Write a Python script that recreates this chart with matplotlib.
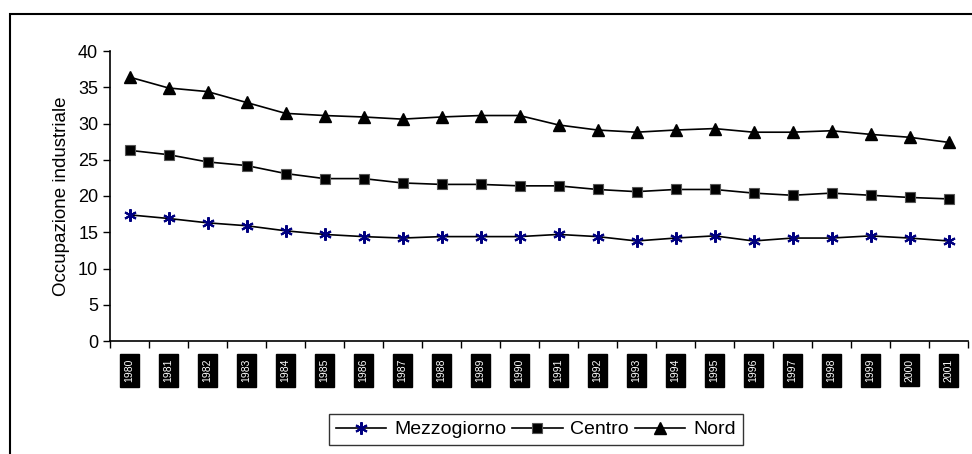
import numpy as np
import matplotlib
matplotlib.use("Agg")
import matplotlib.pyplot as plt
from matplotlib.patches import Rectangle

plt.rcParams['font.family'] = ['Liberation Sans', 'DejaVu Sans']

# dati
anni = [str(a) for a in range(1980, 2002)]
mezzogiorno = [17.4, 16.9, 16.3, 15.9, 15.2, 14.7, 14.4, 14.2, 14.4, 14.4, 14.4,
               14.7, 14.4, 13.8, 14.2, 14.5, 13.8, 14.2, 14.2, 14.5, 14.2, 13.8]
centro = [26.3, 25.7, 24.7, 24.2, 23.1, 22.4, 22.4, 21.8, 21.6, 21.6, 21.4,
          21.4, 20.9, 20.6, 20.9, 20.9, 20.4, 20.1, 20.4, 20.1, 19.8, 19.6]
nord = [36.4, 34.9, 34.4, 32.9, 31.4, 31.1, 30.9, 30.6, 30.9, 31.1, 31.1,
        29.8, 29.1, 28.8, 29.1, 29.3, 28.8, 28.8, 29.0, 28.5, 28.1, 27.4]

fig = plt.figure(figsize=(9.72, 4.54), dpi=100)
ax = fig.add_axes([110/972, 1 - 341/454, (968 - 110)/972, (341 - 51)/454])

x = np.arange(len(anni))
ax.plot(x, mezzogiorno, color='black', lw=1.2, marker=(6, 2, 0), ms=9,
        mec='#000080', mew=1.5, label='Mezzogiorno')
ax.plot(x, centro, color='black', lw=1.2, marker='s', ms=7,
        mfc='black', mec='#555555', mew=0.8, label='Centro')
ax.plot(x, nord, color='black', lw=1.2, marker='^', ms=9,
        mfc='black', mec='black', label='Nord')

ax.set_xlim(-0.5, len(anni) - 0.5)
ax.set_ylim(0, 40)
ax.set_yticks(range(0, 41, 5))
ax.tick_params(axis='y', labelsize=13, length=5, width=1, direction='out')
ax.set_ylabel('Occupazione industriale', fontsize=13.5, labelpad=6)

# tick di categoria sui bordi, etichette al centro
ax.set_xticks(np.arange(-0.5, len(anni), 1))
ax.set_xticklabels([])
ax.tick_params(axis='x', length=5, width=1, direction='out')
for i, a in enumerate(anni):
    ax.text(i, -2.4, a, rotation=90, ha='center', va='top', color='white',
            fontsize=7.5, bbox=dict(facecolor='black', edgecolor='black', pad=3.5))

for s in ['top', 'right']:
    ax.spines[s].set_visible(False)
for s in ['left', 'bottom']:
    ax.spines[s].set_linewidth(1.2)

# cornice esterna
fig.patches.append(Rectangle((10/972, -0.1), 1.2, 1 - 14/454 + 0.1,
                             transform=fig.transFigure, fill=False,
                             edgecolor='black', lw=1.5))

leg = fig.legend(loc='upper left', bbox_to_anchor=(329/972, 1 - 414/454),
                 ncol=3, fontsize=14, frameon=True, fancybox=False,
                 edgecolor='black', handlelength=2.6, handletextpad=0.4,
                 columnspacing=0.3, borderpad=0.35, borderaxespad=0)
leg.get_frame().set_linewidth(1.0)

fig.savefig('out.png', dpi=100)
